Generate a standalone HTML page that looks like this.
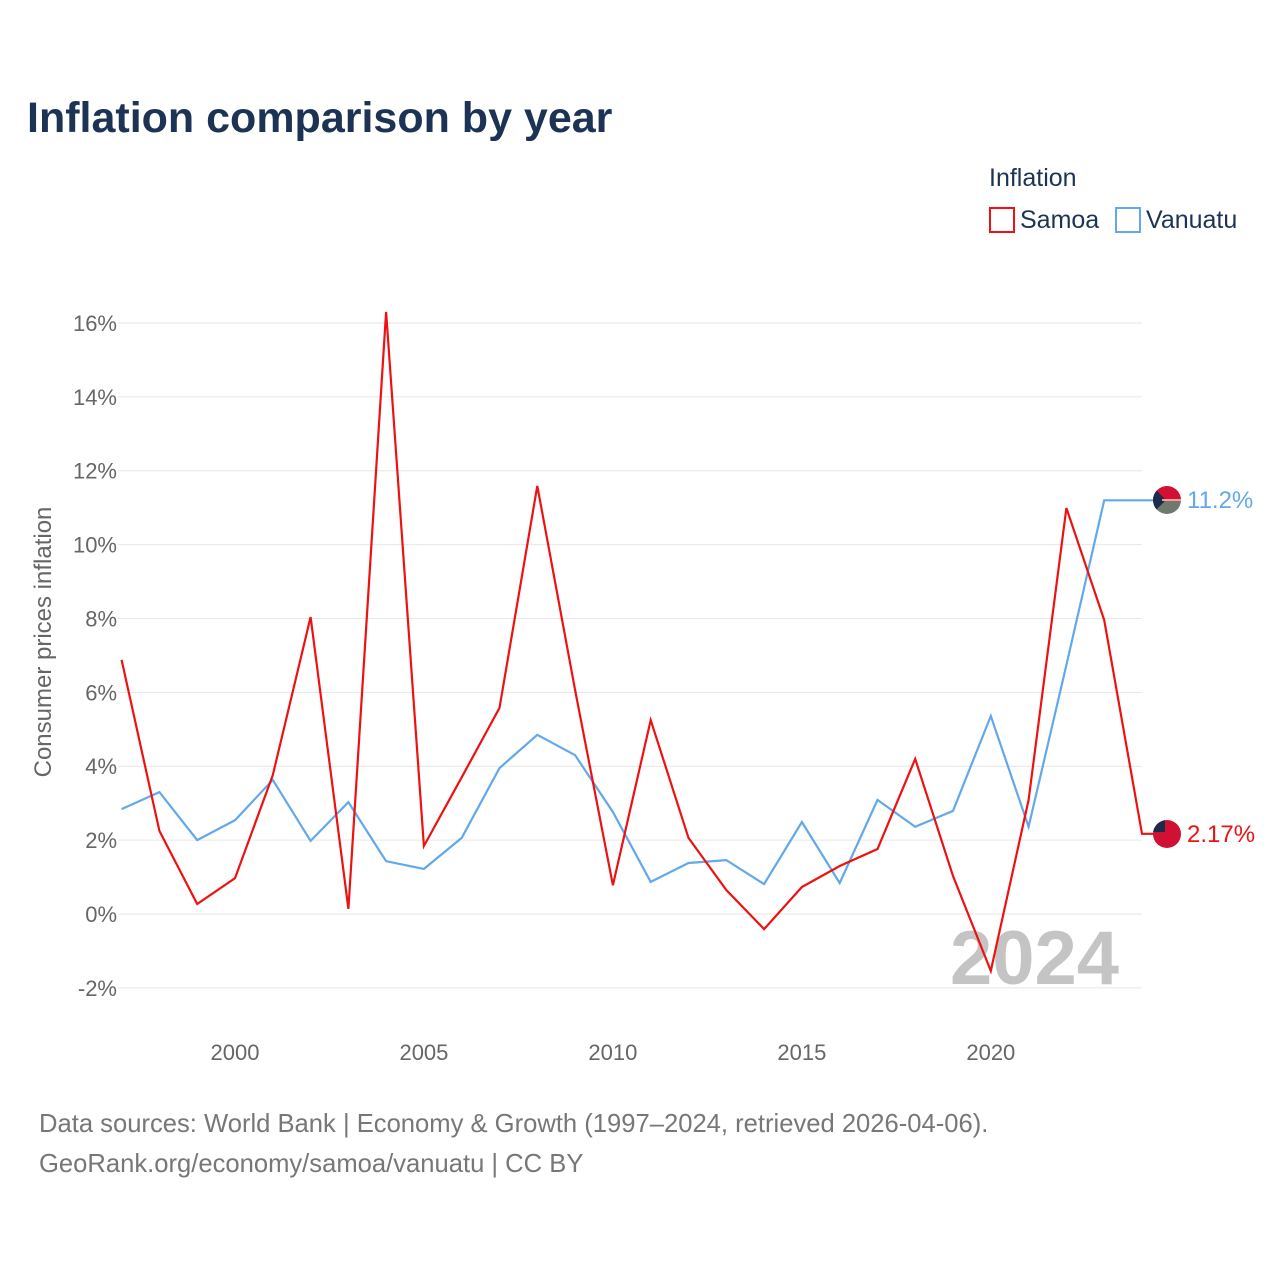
<!DOCTYPE html>
<html><head><meta charset="utf-8"><style>
body{margin:0;background:#fff;font-family:"Liberation Sans",sans-serif}
svg text{font-family:"Liberation Sans",sans-serif}
</style></head><body>
<svg width="1280" height="1280" xmlns="http://www.w3.org/2000/svg" id="chart">
<text x="27" y="132" font-size="43" font-weight="bold" fill="#1d3354">Inflation comparison by year</text>
<text x="989" y="186" font-size="25" fill="#1d3354">Inflation</text>
<g><rect x="990" y="208" width="24" height="24" fill="none" stroke="#ee1111" stroke-width="2"/><text x="1020" y="228" font-size="25" fill="#1d3354">Samoa</text></g>
<g><rect x="1116" y="208" width="24" height="24" fill="none" stroke="#62a8ea" stroke-width="2"/><text x="1146" y="228" font-size="25" fill="#1d3354">Vanuatu</text></g>
<g id="grid"></g><g id="xt"></g>
<text x="950" y="984" font-size="76" font-weight="bold" fill="#c4c4c4">2024</text>
<text transform="translate(51,642) rotate(-90)" text-anchor="middle" font-size="24" fill="#666">Consumer prices inflation</text>
<g id="lines"></g>
<g><clipPath id="cv"><circle cx="1167" cy="500" r="14"/></clipPath><g clip-path="url(#cv)"><rect x="1150" y="484" width="34" height="16" fill="#d21034"/><rect x="1150" y="500" width="34" height="16" fill="#6e7a6e"/><polygon points="1150,484 1166,500 1150,516" fill="#1d2b4a"/><line x1="1162" y1="500" x2="1184" y2="500" stroke="#f99" stroke-width="2"/></g></g>
<g><clipPath id="cs"><circle cx="1167" cy="834" r="14"/></clipPath><g clip-path="url(#cs)"><rect x="1150" y="818" width="34" height="32" fill="#d21034"/><rect x="1150" y="818" width="15" height="14" fill="#1d2b4a"/></g></g>
<text x="1187" y="508" font-size="24" fill="#62a8ea">11.2%</text>
<text x="1187" y="842" font-size="24" fill="#ee1111">2.17%</text>
<text x="39" y="1132" font-size="25.6" fill="#777">Data sources: World Bank | Economy &amp; Growth (1997–2024, retrieved 2026-04-06).</text>
<text x="39" y="1172" font-size="25.6" fill="#777">GeoRank.org/economy/samoa/vanuatu | CC BY</text>
</svg>
<script>
const years=[1997,1998,1999,2000,2001,2002,2003,2004,2005,2006,2007,2008,2009,2010,2011,2012,2013,2014,2015,2016,2017,2018,2019,2020,2021,2022,2023,2024];
const samoa=[6.88,2.25,0.27,0.97,3.76,8.04,0.14,16.3,1.84,3.7,5.58,11.59,6.06,0.78,5.25,2.06,0.65,-0.41,0.73,1.3,1.76,4.2,1.03,-1.54,3.09,10.99,7.96,2.17];
const vanuatu=[2.84,3.3,2.0,2.54,3.63,1.98,3.03,1.43,1.22,2.06,3.95,4.85,4.3,2.76,0.87,1.38,1.46,0.81,2.49,0.84,3.09,2.36,2.79,5.36,2.36,6.74,11.2,11.2];
const yTicks=[-2,0,2,4,6,8,10,12,14,16];
const xTicks=[2000,2005,2010,2015,2020];
const NS="http://www.w3.org/2000/svg";
const X=y=>121.6+(y-1997)*(1142-121.6)/27;
const Y=v=>914-v*36.94;
const grid=document.getElementById('grid');
yTicks.forEach(t=>{
 const l=document.createElementNS(NS,'line');
 l.setAttribute('x1',118);l.setAttribute('x2',1142);l.setAttribute('y1',Y(t));l.setAttribute('y2',Y(t));
 l.setAttribute('stroke','#e6e6e6');
 
 
 grid.appendChild(l);
 const tx=document.createElementNS(NS,'text');
 tx.setAttribute('x',117);tx.setAttribute('y',Y(t)+8);tx.setAttribute('text-anchor','end');
 tx.setAttribute('font-size','22');tx.setAttribute('fill','#666');
 tx.textContent=t+'%';
 
 
 grid.appendChild(tx);
});
const xt=document.getElementById('xt');
xTicks.forEach(t=>{
 const tx=document.createElementNS(NS,'text');
 tx.setAttribute('x',X(t));tx.setAttribute('y',1060);tx.setAttribute('text-anchor','middle');
 tx.setAttribute('font-size','22');tx.setAttribute('fill','#666');
 tx.textContent=t;
 
 
 xt.appendChild(tx);
});
const lines=document.getElementById('lines');
function draw(vals,color,name){
 let d=vals.map((v,i)=>(i?'L':'M')+X(years[i]).toFixed(1)+','+Y(v).toFixed(1)).join(' ');
 d+=' L1155,'+Y(vals[vals.length-1]).toFixed(1);
 const p=document.createElementNS(NS,'path');
 p.setAttribute('d',d);p.setAttribute('fill','none');p.setAttribute('stroke',color);p.setAttribute('stroke-width','2.2');
 
 
 lines.appendChild(p);
}
draw(vanuatu,'#62a8ea','vanuatu-line');
draw(samoa,'#ee1111','samoa-line');
</script>
</body></html>
